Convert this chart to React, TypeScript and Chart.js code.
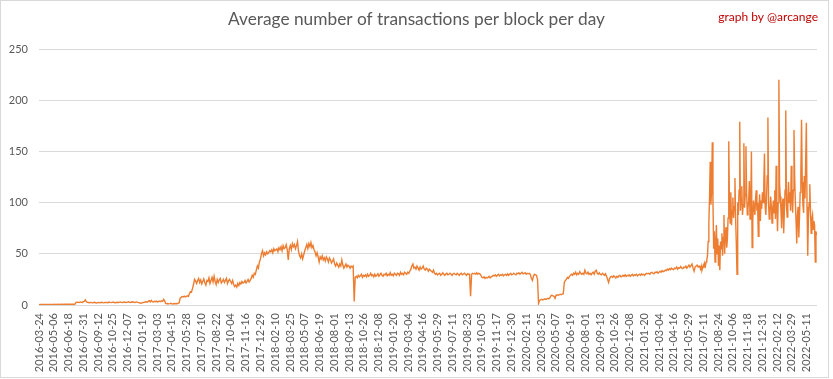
import React, { useEffect, useRef } from "react";
import { Chart, registerables } from "chart.js";

Chart.register(...registerables);

const TITLE = "Average number of transactions per block per day";
const CREDIT = "graph by @arcange";

const tickLabels = [
  "2016-03-24", "2016-05-06", "2016-06-18", "2016-07-31", "2016-09-12", "2016-10-25", "2016-12-07",
  "2017-01-19", "2017-03-03", "2017-04-15", "2017-05-28", "2017-07-10", "2017-08-22", "2017-10-04", "2017-11-16", "2017-12-29",
  "2018-02-10", "2018-03-25", "2018-05-07", "2018-06-19", "2018-08-01", "2018-09-13", "2018-10-26", "2018-12-08",
  "2019-01-20", "2019-03-04", "2019-04-16", "2019-05-29", "2019-07-11", "2019-08-23", "2019-10-05", "2019-11-17", "2019-12-30",
  "2020-02-11", "2020-03-25", "2020-05-07", "2020-06-19", "2020-08-01", "2020-09-13", "2020-10-26", "2020-12-08",
  "2021-01-20", "2021-03-04", "2021-04-16", "2021-05-29", "2021-07-11", "2021-08-24", "2021-10-06", "2021-11-18", "2021-12-31",
  "2022-02-12", "2022-03-29", "2022-05-11",
];
const tickEvery = 43; // days between labels
const dayCount = 2266;

// 2016-03-24 .. 2021-06-22, one value every 3 days
const earlyStart = 0;
const earlyStep = 3;
const earlyValues = [
  0.4, 0.5, 0.5, 0.6, 0.5, 0.5, 0.6, 0.5, 0.6, 0.5,
  0.5, 0.6, 0.6, 0.5, 0.6, 0.7, 0.6, 0.6, 0.7, 0.6,
  0.7, 0.6, 0.7, 0.7, 0.6, 0.7, 0.8, 0.7, 0.7, 0.8,
  0.7, 0.8, 0.8, 0.7, 0.8, 0.9, 2.5, 2.8, 2.6, 2.4,
  3.0, 2.7, 2.5, 3.2, 3.5, 5.0, 3.2, 2.6, 2.4, 2.2,
  2.5, 2.3, 2.1, 2.4, 2.6, 2.2, 2.0, 2.3, 2.5, 2.2,
  2.4, 2.7, 2.3, 2.1, 2.5, 2.6, 2.4, 2.2, 2.8, 2.5,
  2.3, 2.6, 2.9, 2.4, 2.2, 2.5, 2.7, 2.4, 2.6, 3.0,
  2.5, 2.3, 2.7, 2.9, 2.6, 2.4, 2.8, 3.1, 2.6, 2.5,
  2.9, 3.2, 2.7, 2.4, 2.8, 3.0, 2.6, 2.3, 2.0, 1.8,
  2.1, 2.4, 2.6, 2.9, 3.1, 2.8, 3.5, 4.2, 3.1, 4.5,
  3.3, 2.9, 3.6, 3.2, 3.8, 3.0, 3.4, 3.9, 3.3, 4.1,
  3.6, 5.5, 4.0, 1.5, 1.2, 1.4, 1.1, 1.3, 1.6, 1.2,
  1.0, 1.4, 1.3, 1.5, 1.2, 1.6, 2.0, 6.5, 7.5, 8.2,
  7.8, 8.6, 7.9, 8.4, 9.0, 8.3, 11, 13, 12.5, 16,
  20, 25, 23.5, 21, 24, 26, 22, 24.5, 20.5, 23,
  25.5, 22, 19.5, 24, 23, 26.5, 21, 24, 27, 22.5,
  28, 23, 20, 25, 22, 24.5, 26, 21.5, 23, 25,
  22, 24, 26, 21, 23.5, 25, 23, 21, 24, 20,
  18, 19.5, 17.5, 21, 19, 22, 20.5, 23, 21.5, 22,
  24, 21.5, 23, 25, 22.5, 24, 26, 29, 27, 31,
  30, 34, 38, 36, 42, 45, 50, 53, 48, 51,
  49, 52, 50, 51, 53, 52, 54, 51, 55, 53,
  54, 55, 52, 56, 54, 57, 53, 58, 55, 56,
  59, 54, 44, 55, 58, 54, 60, 57, 59, 55,
  58, 62, 52, 48, 46, 50, 45, 49, 53, 56,
  59, 55, 60, 57, 61, 56, 58, 54, 52, 48,
  51, 47, 42, 47, 45, 48, 44, 46, 43, 47,
  45, 42, 46, 44, 41, 43, 45, 40, 38, 41,
  39, 37, 40, 38, 44, 39, 36, 38, 40, 37,
  39, 38, 36, 38, 37, 38, 3.5, 27, 28, 26.5,
  29, 27.5, 28.5, 30, 27, 29, 28, 29.5, 27.5, 30,
  28, 29, 31, 28.5, 29.5, 27.5, 30, 28, 29, 30.5,
  28, 29.5, 31, 29, 28, 30, 29.5, 31, 28.5, 30,
  29, 31.5, 29, 30, 28.5, 31, 30, 29, 31, 30.5,
  29, 32, 30, 31, 29.5, 32, 31, 30, 32, 31,
  33, 35, 38, 40, 36, 37, 35, 38, 36, 34,
  37, 35, 36, 38, 35, 34, 36, 35, 33, 35,
  34, 33, 32, 34, 31, 30, 31, 29.5, 30.5, 31,
  29, 30, 31.5, 30, 29, 30.5, 31, 29.5, 30, 31,
  30, 29, 30.5, 31, 30, 29.5, 31, 30, 29, 30.5,
  31, 29.5, 30, 31, 30, 29, 30.5, 30, 30, 8.5,
  30, 31, 30.5, 31, 30, 31.5, 30, 31, 30.5, 29,
  27, 26.5, 27.5, 26, 27, 26.5, 27, 28, 26.5, 27.5,
  28, 29, 28.5, 29.5, 28, 29, 30, 28.5, 29.5, 29,
  30, 28.5, 29.5, 30, 29, 30.5, 29, 30, 31, 29.5,
  30, 31, 30, 29.5, 31, 30.5, 31.5, 30, 31, 32,
  30.5, 31, 31.5, 30, 31, 30.5, 31, 30, 26, 24,
  28, 30, 29.5, 29, 25, 1.5, 4.5, 5, 5.5, 5,
  5.5, 6, 5.5, 6, 6.5, 6, 7, 9, 9.5, 9,
  8.5, 6.5, 9.5, 10, 9.5, 10, 10.5, 10, 10.5, 11,
  22, 24, 25, 27, 26, 28, 29, 30, 29, 31,
  30, 32, 29.5, 31, 30, 32.5, 31, 30, 31, 30,
  34, 31, 30.5, 32, 30, 31, 29.5, 31, 32, 30,
  33, 34, 31, 30, 31.5, 30, 29.5, 31, 30, 29,
  30.5, 28, 25, 22, 26, 27.5, 28, 27, 28.5, 27.5,
  26.5, 28, 27, 28.5, 29, 27.5, 28, 29, 28, 29.5,
  28, 29, 28.5, 29.5, 28, 29, 30, 28.5, 29.5, 29,
  30, 28.5, 29.5, 30, 29, 30.5, 29.5, 30, 29, 30.5,
  31, 30.5, 31, 30, 31.5, 32, 31, 30.5, 32, 31.5,
  32.5, 31, 32, 33, 32, 33.5, 32.5, 33, 34, 33.5,
  35, 34, 35.5, 34.5, 36, 35, 34.5, 36, 35.5, 37,
  35, 36.5, 36, 37.5, 36, 35.5, 37, 36.5, 38, 36,
  37.5, 39, 37, 38.5, 40, 36, 33, 37, 38, 39,
  37, 38,
];

// 2021-06-24 .. 2022-06-08, one value every 2 days
const lateStart = 1925;
const lateStep = 2;
const lateValues = [
  37, 35, 38, 34, 36, 39, 37, 40, 38, 42,
  44, 48, 62, 80, 105, 140, 98, 112, 159, 100,
  55, 72, 42, 60, 78, 50, 65, 38, 58, 34,
  62, 55, 70, 48, 66, 88, 50, 68, 76, 56,
  64, 85, 160, 95, 80, 110, 78, 92, 105, 85,
  96, 124, 84, 60, 30, 100, 88, 112, 179, 92,
  104, 116, 88, 98, 158, 95, 108, 155, 110, 88,
  94, 102, 121, 84, 98, 150, 56, 82, 102, 95,
  88, 104, 112, 92, 100, 67, 96, 108, 82, 102,
  94, 110, 100, 118, 148, 96, 88, 104, 126, 183,
  98, 84, 92, 106, 96, 80, 94, 102, 90, 112,
  84, 136, 96, 72, 100, 220, 118, 106, 92, 75,
  98, 104, 70, 92, 112, 190, 98, 86, 104, 120,
  100, 110, 92, 136, 104, 90, 112, 171, 124, 100,
  82, 60, 88, 96, 66, 86, 110, 128, 181, 120,
  98, 90, 126, 104, 140, 178, 96, 48, 84, 100,
  118, 92, 70, 84, 88, 74, 82, 78, 42, 72,
  68,
];

const yMax = 250;
const yStep = 50;

const TEXT_GREY = "#595959";
const GRID_GREY = "#D9D9D9";
const LINE_ORANGE = "#ED7D31";
const CREDIT_RED = "#C00000";
const FONT = "Lato, 'Open Sans', sans-serif";

export default function App() {
  const ref = useRef<HTMLCanvasElement>(null);

  useEffect(() => {
    document.body.style.margin = "0";
    const points = [
      ...earlyValues.map((y, i) => ({ x: earlyStart + i * earlyStep, y })),
      ...lateValues.map((y, i) => ({ x: lateStart + i * lateStep, y })),
    ];

    const decor = {
      id: "decor",
      beforeDraw(chart: any) {
        const ctx = chart.ctx;
        ctx.save();
        ctx.fillStyle = "#FFFFFF";
        ctx.fillRect(0, 0, chart.width, chart.height);
        ctx.strokeStyle = GRID_GREY;
        ctx.lineWidth = 1;
        ctx.strokeRect(0.5, 0.5, 828, 377);
        ctx.restore();
      },
      afterDraw(chart: any) {
        const ctx = chart.ctx;
        ctx.save();
        ctx.textBaseline = "middle";
        ctx.fillStyle = TEXT_GREY;
        ctx.font = `17.3px ${FONT}`;
        ctx.textAlign = "center";
        ctx.fillText(TITLE, 416.5, 19);
        ctx.fillStyle = CREDIT_RED;
        ctx.font = `12px ${FONT}`;
        ctx.textAlign = "right";
        ctx.fillText(CREDIT, 818, 17);
        ctx.restore();
      },
    };

    const chart = new Chart(ref.current as HTMLCanvasElement, {
      type: "line",
      data: {
        datasets: [
          {
            data: points,
            borderColor: LINE_ORANGE,
            borderWidth: 1.4,
            pointRadius: 0,
            tension: 0,
            fill: false,
          },
        ],
      },
      options: {
        animation: false,
        responsive: false,
        devicePixelRatio: 1,
        layout: { padding: { top: 49, right: 16, bottom: 0, left: 0 } },
        plugins: {
          legend: { display: false },
          tooltip: { enabled: false },
          title: { display: false },
        },
        scales: {
          x: {
            type: "linear",
            min: 0,
            max: dayCount,
            grid: { display: false, drawTicks: false },
            border: { display: false },
            afterBuildTicks: (s: any) => {
              s.ticks = tickLabels.map((_, i) => ({ value: i * tickEvery }));
            },
            afterFit: (s: any) => {
              s.height = 74;
            },
            ticks: {
              autoSkip: false,
              minRotation: 90,
              maxRotation: 90,
              padding: 8,
              color: TEXT_GREY,
              font: { family: FONT, size: 11 },
              callback: (_v: any, i: number) => tickLabels[i],
            },
          },
          y: {
            min: 0,
            max: yMax,
            afterFit: (s: any) => {
              s.width = 39;
            },
            grid: { color: GRID_GREY, drawTicks: false },
            border: { display: false },
            ticks: {
              stepSize: yStep,
              padding: 11,
              color: TEXT_GREY,
              font: { family: FONT, size: 11 },
            },
          },
        },
      },
      plugins: [decor],
    });
    return () => chart.destroy();
  }, []);

  return <canvas ref={ref} width={833} height={379} style={{ display: "block" }} />;
}
